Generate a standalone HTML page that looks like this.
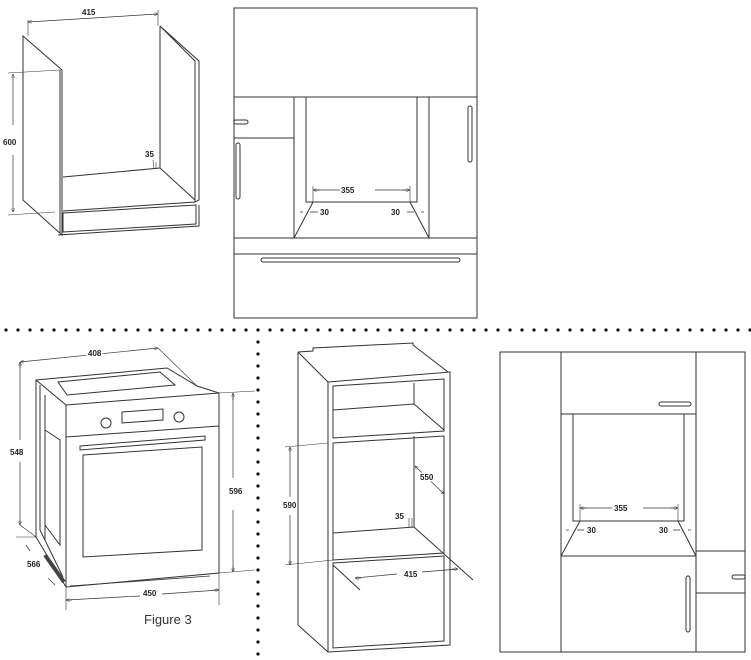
<!DOCTYPE html>
<html><head><meta charset="utf-8"><style>
html,body{margin:0;padding:0;background:#fff;}
svg{display:block;}
text{font-family:"Liberation Sans",sans-serif;font-size:8px;font-weight:bold;fill:#222;stroke:#fff;stroke-width:3px;paint-order:stroke;}
</style></head><body>
<svg width="751" height="660" viewBox="0 0 751 660" xmlns="http://www.w3.org/2000/svg">
<defs>
<marker id="a" viewBox="0 0 6 6" refX="6" refY="3" markerWidth="5" markerHeight="5" orient="auto-start-reverse"><path d="M0,0L6,3L0,6z" fill="none" stroke="#333" stroke-width="0.8"/></marker>
<pattern id="dots" width="12" height="12" patternUnits="userSpaceOnUse"><circle cx="6" cy="6" r="1.6" fill="#111"/></pattern>
</defs>
<g fill="none" stroke="#333" stroke-width="1">
<!-- TOP LEFT CABINET -->
<path d="M23,36 L62,70 L62,235 L23,200 Z"/>
<path d="M60,70 L60,233"/>
<path d="M160,26 L199,61 L199,200 L195,202 L195,61 Z M160,26 L160,168"/>
<path d="M63,177 L160,168 M160,168 L195,200 M63,211 L195,202"/>
<path d="M63,213 L196,205 L196,224 L63,232 Z M58,235 L199,226 L199,205"/>
<path d="M28,22 L158,14" marker-start="url(#a)" marker-end="url(#a)" stroke-width="0.7"/>
<path d="M28,20 L28,36 M158,10 L158,26" stroke-width="0.6"/>
<path d="M13,76 L13,125 M13,155 L13,212" stroke-width="0.7"/>
<path d="M13,76 L13,74" marker-end="url(#a)" stroke-width="0.7"/>
<path d="M13,210 L13,212" marker-end="url(#a)" stroke-width="0.7"/>
<path d="M8,73 L60,70 M8,215 L55,212" stroke-width="0.6"/>
<path d="M153,160 L154,169 M156,162 L156,168" stroke-width="0.6"/>

<!-- TOP MIDDLE PANEL -->
<rect x="234" y="8" width="243" height="310"/>
<path d="M234,97 L477,97 M234,138 L294,138 M294,97 L294,238 M306,97 L306,202 L313,202 L410,202 L417,202 L417,97 M429,97 L429,238 M234,238 L477,238 M234,254 L477,254"/>
<path d="M313,202 L294,238 M410,202 L429,238"/>
<rect x="261" y="258" width="199" height="4" rx="2"/>
<rect x="234" y="120" width="14" height="4" rx="2"/>
<rect x="236" y="143" width="4" height="56" rx="2"/>
<rect x="468" y="106" width="4" height="56" rx="2"/>
<path d="M313,190 L345,190 M375,190 L410,190" stroke-width="0.7"/>
<path d="M320,190 L313,190" marker-end="url(#a)" stroke-width="0.7"/>
<path d="M403,190 L410,190" marker-end="url(#a)" stroke-width="0.7"/>
<path d="M313,186 L313,202 M410,186 L410,202" stroke-width="0.6"/>
<path d="M300,212 L303,212 M310,212 L318,212 M407,212 L414,212 M421,212 L424,212" stroke-width="0.7"/>

<!-- BOTTOM RIGHT PANEL -->
<rect x="500" y="352" width="245" height="300"/>
<path d="M561,352 L561,652 M696,352 L696,652 M561,414 L696,414 M573,414 L573,521 L580,521 L678,521 L684,521 L684,414 M561,556 L696,556 M696,551 L745,551 M696,593 L745,593"/>
<path d="M580,521 L561,556 M678,521 L696,556"/>
<rect x="659" y="402" width="32" height="4" rx="2"/>
<rect x="732" y="575" width="13" height="4" rx="2"/>
<rect x="686" y="576" width="4" height="56" rx="2"/>
<path d="M580,508 L612,508 M643,508 L678,508" stroke-width="0.7"/>
<path d="M587,508 L580,508" marker-end="url(#a)" stroke-width="0.7"/>
<path d="M671,508 L678,508" marker-end="url(#a)" stroke-width="0.7"/>
<path d="M580,504 L580,521 M678,504 L678,521" stroke-width="0.6"/>
<path d="M566,530 L569,530 M577,530 L584,530 M673,530 L680,530 M688,530 L691,530" stroke-width="0.7"/>

<!-- OVEN -->
<path d="M36,380 L167,368 L197,386 L219,393 L219,573 L66,587 L36,537 Z"/>
<path d="M66,405 L219,393 M66,405 L66,587 M36,380 L66,405"/>
<path d="M58,382 L160,372 L175,385 L67,395 Z"/>
<path d="M40,385 L40,530 L63,577 M45,395 L45,540"/>
<path d="M45,430 L60,440 L60,545 L45,525"/>
<path d="M45,555 L64,582" stroke-width="4" stroke="#444"/>
<path d="M66,437 L219,426"/>
<path d="M80,446 L205,436 L205,440 L80,450 Z"/>
<path d="M83,455 L202,447 L202,550 L83,557 Z"/>
<path d="M122,412 L163,409 L163,420 L122,423 Z"/>
<circle cx="106" cy="423" r="5"/><circle cx="179" cy="417" r="5"/>
<path d="M70,586 L210,576" stroke-width="0.8"/>
<path d="M20,362 L158,348" marker-start="url(#a)" marker-end="url(#a)" stroke-width="0.7"/>
<path d="M158,348 L197,386" stroke-width="0.6"/>
<path d="M20,362 L20,440 M20,462 L20,525" stroke-width="0.7"/>
<path d="M20,368 L20,362" marker-end="url(#a)" stroke-width="0.7"/>
<path d="M20,520 L20,525" marker-end="url(#a)" stroke-width="0.7"/>
<path d="M20,525 L36,537 M16,537 L36,537" stroke-width="0.6"/>
<path d="M26,545 L30,551 M48,578 L55,585" stroke-width="0.7"/>
<path d="M233,393 L233,478 M233,510 L233,572" stroke-width="0.7"/>
<path d="M233,400 L233,393" marker-end="url(#a)" stroke-width="0.7"/>
<path d="M233,566 L233,572" marker-end="url(#a)" stroke-width="0.7"/>
<path d="M219,393 L255,391 M219,573 L255,570" stroke-width="0.6"/>
<path d="M66,600 L140,596 M162,594 L219,590" stroke-width="0.7"/>
<path d="M72,600 L66,600" marker-end="url(#a)" stroke-width="0.7"/>
<path d="M213,590 L219,590" marker-end="url(#a)" stroke-width="0.7"/>
<path d="M66,587 L66,610 M219,573 L219,605" stroke-width="0.6"/>

<!-- TALL CABINET -->
<path d="M298,352 L298,625 L328,652 M298,352 L313,351 L313,348 L413,343 L413,345 L448,372 M298,352 L328,382"/>
<path d="M328,382 L450,372 L450,645 L328,652 Z"/>
<path d="M333,386 L444,379 L444,431 L333,438 Z"/>
<path d="M414,383 L414,404 M333,410 L414,404 L444,430"/>
<path d="M333,443 L444,436 L444,553 L333,560 Z"/>
<path d="M414,436 L414,527 M333,533 L414,527 L473,580"/>
<path d="M333,563 L444,556 L444,641 L333,648 Z"/>
<path d="M333,565 L360,590"/>
<path d="M290,447 L290,497 M290,515 L290,565" stroke-width="0.7"/>
<path d="M290,452 L290,447" marker-end="url(#a)" stroke-width="0.7"/>
<path d="M290,560 L290,565" marker-end="url(#a)" stroke-width="0.7"/>
<path d="M285,447 L328,443 M285,565 L333,560" stroke-width="0.6"/>
<path d="M415,466 L444,494" marker-start="url(#a)" marker-end="url(#a)" stroke-width="0.7"/>
<path d="M409,518 L409,527 M412,518 L412,527" stroke-width="0.6"/>
<path d="M355,578 L397,574 M422,572 L458,569" stroke-width="0.7"/>
<path d="M361,578 L355,578" marker-end="url(#a)" stroke-width="0.7"/>
<path d="M452,569 L458,569" marker-end="url(#a)" stroke-width="0.7"/>
</g>

<!-- dotted separators -->
<rect x="0" y="321" width="751" height="12" fill="url(#dots)"/>
<rect x="256" y="333" width="12" height="327" fill="url(#dots)"/>

<!-- labels -->
<text x="82" y="15">415</text>
<text x="3" y="145">600</text>
<text x="145" y="157">35</text>
<text x="341" y="193">355</text>
<text x="320" y="215">30</text>
<text x="391" y="215">30</text>
<text x="614" y="511">355</text>
<text x="587" y="533">30</text>
<text x="659" y="533">30</text>
<text x="88" y="356">408</text>
<text x="10" y="455">548</text>
<text x="27" y="567">566</text>
<text x="229" y="494">596</text>
<text x="143" y="596">450</text>
<text x="144" y="624" style="font-size:13px;font-weight:normal;fill:#333">Figure 3</text>
<text x="283" y="508">590</text>
<text x="420" y="480">550</text>
<text x="395" y="519">35</text>
<text x="404" y="577">415</text>
</svg>
</body></html>
